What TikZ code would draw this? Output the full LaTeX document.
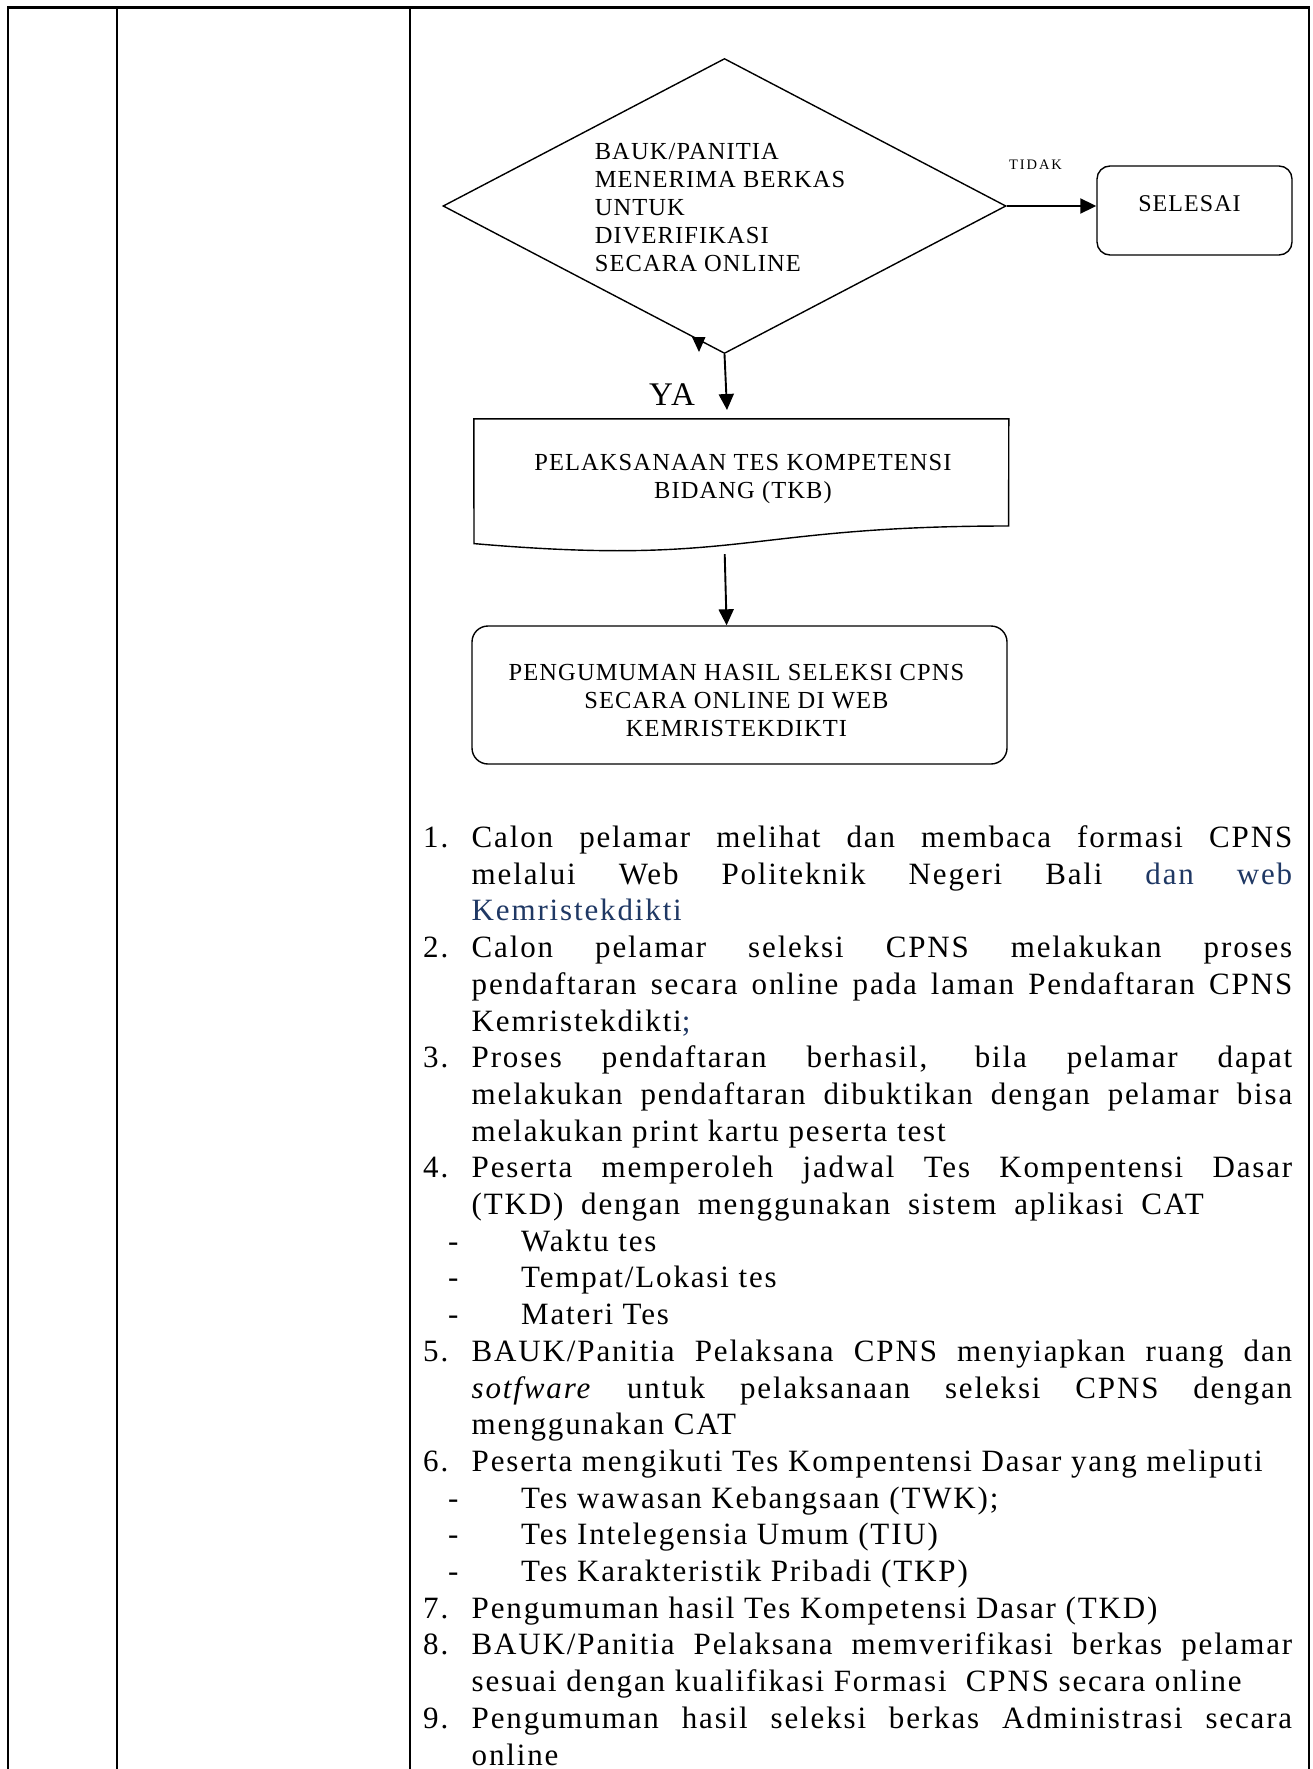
\documentclass[tikz,border=0pt]{standalone}
\usepackage{fontspec}
\setmainfont{Liberation Serif}
\usetikzlibrary{shapes.geometric,arrows.meta,calc}
\newfontfamily\lsfont[LetterSpace=6]{Liberation Serif}
\newfontfamily\flfont[LetterSpace=4.5]{Liberation Serif}
\newfontfamily\yafont[LetterSpace=5]{Liberation Serif}
\newfontfamily\smfont[LetterSpace=13]{Liberation Serif}
\definecolor{linkblue}{RGB}{31,56,100}
\newcommand\jline[1]{\makebox[820.5pt][s]{#1}}
\newcommand\numit[2]{\makebox[48.5pt][l]{#1}#2}
\newcommand\contl{\hspace*{48.5pt}}
\newcommand\dashl[1]{\hspace*{25pt}\makebox[73pt][l]{-}#1}
\begin{document}
\begin{tikzpicture}[x=1pt,y=-1pt,
  tbl/.style={line width=2.4pt},
  shp/.style={draw, line width=1.4pt},
  conn/.style={line width=1.9pt, -{Triangle[length=16pt,width=15pt]}},
  flowtxt/.style={inner sep=0pt, font=\flfont\fontsize{24.5}{28}\selectfont},
]
\useasboundingbox (0,0) rectangle (1313,1769);
% table frame
\draw[tbl] (7.7,1769) -- (7.7,7.5) -- (1309,7.5) -- (1309,1769);
\draw[tbl] (117,7.5) -- (117,1769);
\draw[tbl] (410,7.5) -- (410,1769);

% decision
\node[diamond, shp, minimum width=563pt, minimum height=295pt, inner sep=0pt] (dec) at (724.5,206) {};
\node[flowtxt, anchor=base west] (dectext) at (594.6,159)
  {\parbox[t]{300pt}{\raggedright BAUK/PANITIA\\MENERIMA BERKAS\\UNTUK\\DIVERIFIKASI\\SECARA ONLINE}};

% selesai
\node[shp, rounded corners=13pt, minimum width=195pt, minimum height=89pt, inner sep=0pt] (sel) at (1194.5,210.5) {};
\node[inner sep=0pt, anchor=base, font=\flfont\fontsize{24}{28}\selectfont] (seltext) at (1189.5,211.7) {SELESAI};
\node[inner sep=0pt, anchor=base west, font=\smfont\fontsize{14.5}{16}\selectfont] (tidak) at (1009,169) {TIDAK};
\draw[conn] (dec.east) -- (dec.east -| sel.west);

% stray arrowhead on diamond edge
\fill (692,337) -- (705.5,337) -- (699,352) -- cycle;

% TKB document shape
\node[inner sep=0pt, minimum width=534.6pt, minimum height=133.4pt] (tkb) at (741.3,485.7) {};
\draw[shp] (tkb.north west) -- (tkb.north east) -- (1008.6,526)
  .. controls (741.3,526) and (741.3,566.7) .. (474,543.6) -- cycle;
\node[flowtxt, anchor=base] (tkbtext) at (743,470.7)
  {\parbox[t]{520pt}{\centering PELAKSANAAN TES KOMPETENSI\\BIDANG (TKB)}};

\coordinate (yaend) at (727,410);
\draw[conn] (dec.south) -- (yaend);
\node[inner sep=0pt, anchor=base west, font=\yafont\fontsize{33}{34}\selectfont] (ya) at (649,405) {YA};

% pengumuman
\node[shp, rounded corners=16pt, minimum width=535pt, minimum height=138pt, inner sep=0pt] (peng) at (739.5,695) {};
\node[flowtxt, anchor=base] (pengtext) at (736.5,680.7)
  {\parbox[t]{520pt}{\centering PENGUMUMAN HASIL SELEKSI CPNS\\SECARA ONLINE DI WEB\\KEMRISTEKDIKTI}};
\draw[conn] ([xshift=-16.6pt]tkb.south) ++(0,1.5) -- ([xshift=-12.9pt]peng.north);

% list of steps
\node[inner sep=0pt, anchor=base west, font=\lsfont\fontsize{31}{36.7}\selectfont] (steps) at (423,847.5)
{\parbox[t]{880pt}{\raggedright
\numit{1.}{\jline{Calon pelamar melihat dan membaca formasi CPNS}}\\
\contl\jline{melalui Web Politeknik Negeri Bali \textcolor{linkblue}{dan web}}\\
\contl\textcolor{linkblue}{Kemristekdikti}\\
\numit{2.}{\jline{Calon pelamar seleksi CPNS melakukan proses}}\\
\contl\jline{pendaftaran secara online pada laman Pendaftaran CPNS}\\
\contl Kemristekdikti\textcolor{linkblue}{;}\\
\numit{3.}{\jline{Proses pendaftaran berhasil, bila pelamar dapat}}\\
\contl\jline{melakukan pendaftaran dibuktikan dengan pelamar bisa}\\
\contl melakukan print kartu peserta test\\
\numit{4.}{\jline{Peserta memperoleh jadwal Tes Kompentensi Dasar}}\\
\contl\makebox[732pt][s]{(TKD) dengan menggunakan sistem aplikasi CAT}\\
\dashl{Waktu tes}\\
\dashl{Tempat/Lokasi tes}\\
\dashl{Materi Tes}\\
\numit{5.}{\jline{BAUK/Panitia Pelaksana CPNS menyiapkan ruang dan}}\\
\contl\jline{\textit{sotfware} untuk pelaksanaan seleksi CPNS dengan}\\
\contl menggunakan CAT\\
\numit{6.}{Peserta mengikuti Tes Kompentensi Dasar yang meliputi}\\
\dashl{Tes wawasan Kebangsaan (TWK);}\\
\dashl{Tes Intelegensia Umum (TIU)}\\
\dashl{Tes Karakteristik Pribadi (TKP)}\\
\numit{7.}{Pengumuman hasil Tes Kompetensi Dasar (TKD)}\\
\numit{8.}{\jline{BAUK/Panitia Pelaksana memverifikasi berkas pelamar}}\\
\contl sesuai dengan kualifikasi Formasi\ \ CPNS secara online\\
\numit{9.}{\jline{Pengumuman hasil seleksi berkas Administrasi secara}}\\
\contl online}};
\end{tikzpicture}
\end{document}
